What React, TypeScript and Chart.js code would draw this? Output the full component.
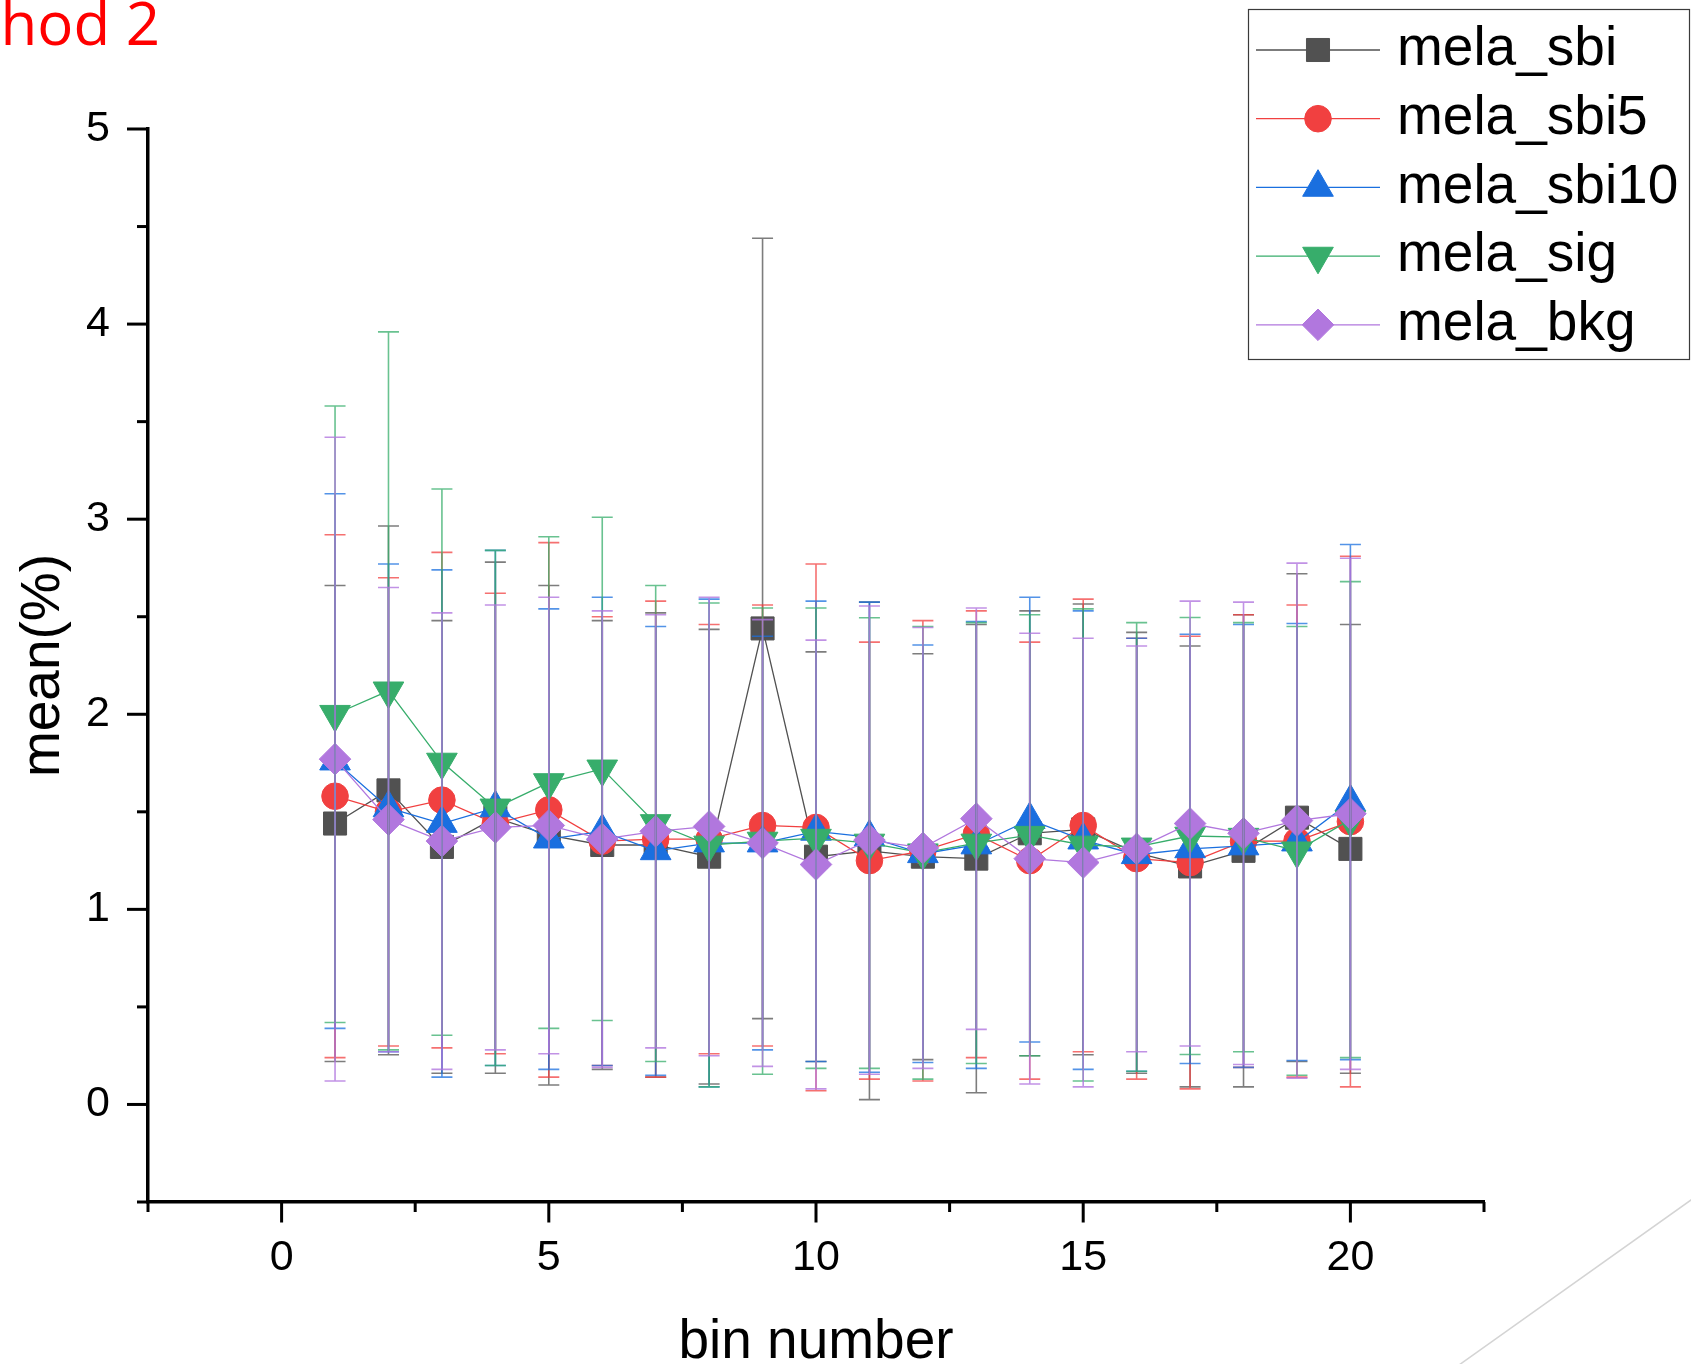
import React, { useEffect, useRef } from 'react';
import { Chart, registerables } from 'chart.js';
import { drawPoint } from 'chart.js/helpers';

Chart.register(...registerables);

// ---------------- data ----------------
const bins = [1, 2, 3, 4, 5, 6, 7, 8, 9, 10, 11, 12, 13, 14, 15, 16, 17, 18, 19, 20];

const seriesNames = ['mela_sbi', 'mela_sbi5', 'mela_sbi10', 'mela_sig', 'mela_bkg'];

const sbiMean = [1.44, 1.61, 1.32, 1.47, 1.38, 1.33, 1.33, 1.27, 2.44, 1.27, 1.30, 1.27, 1.26, 1.39, 1.41, 1.29, 1.22, 1.30, 1.47, 1.31];
const sbiErr = [1.22, 1.355, 1.16, 1.31, 1.28, 1.15, 1.19, 1.165, 2.0, 1.05, 1.275, 1.04, 1.20, 1.14, 1.155, 1.13, 1.13, 1.21, 1.25, 1.15];

const sbi5Mean = [1.58, 1.50, 1.56, 1.44, 1.51, 1.35, 1.36, 1.36, 1.43, 1.42, 1.25, 1.30, 1.385, 1.25, 1.43, 1.26, 1.24, 1.35, 1.35, 1.45];
const sbi5Err = [1.34, 1.20, 1.27, 1.18, 1.37, 1.15, 1.22, 1.10, 1.13, 1.35, 1.12, 1.18, 1.145, 1.12, 1.16, 1.13, 1.16, 1.16, 1.21, 1.36];

const sbi10Mean = [1.76, 1.52, 1.44, 1.52, 1.36, 1.40, 1.30, 1.34, 1.34, 1.40, 1.37, 1.285, 1.33, 1.46, 1.355, 1.28, 1.31, 1.325, 1.345, 1.55];
const sbi10Err = [1.37, 1.25, 1.30, 1.32, 1.18, 1.20, 1.15, 1.25, 1.06, 1.18, 1.205, 1.07, 1.145, 1.14, 1.175, 1.11, 1.10, 1.135, 1.12, 1.32];

const sigMean = [2.00, 2.12, 1.755, 1.52, 1.65, 1.72, 1.44, 1.33, 1.35, 1.365, 1.34, 1.29, 1.34, 1.38, 1.33, 1.32, 1.376, 1.37, 1.30, 1.46];
const sigErr = [1.58, 1.84, 1.40, 1.32, 1.26, 1.29, 1.22, 1.24, 1.195, 1.18, 1.155, 1.16, 1.13, 1.13, 1.21, 1.15, 1.12, 1.10, 1.15, 1.22];

const bkgMean = [1.77, 1.46, 1.35, 1.42, 1.43, 1.36, 1.40, 1.425, 1.34, 1.23, 1.355, 1.315, 1.465, 1.26, 1.24, 1.31, 1.44, 1.39, 1.455, 1.49];
const bkgErr = [1.65, 1.19, 1.17, 1.14, 1.17, 1.17, 1.11, 1.175, 1.145, 1.15, 1.20, 1.13, 1.08, 1.155, 1.15, 1.04, 1.14, 1.185, 1.32, 1.31];

const xMajorTicks = [0, 5, 10, 15, 20];
const xMinorTicks = [-2.5, 2.5, 7.5, 12.5, 17.5, 22.5];
const yMajorTicks = [0, 1, 2, 3, 4, 5];
const yMinorTicks = [-0.5, 0.5, 1.5, 2.5, 3.5, 4.5];

const slideTitle = 'Method 2';
const xTitle = 'bin number';
const yTitle = 'mean(%)';

// ---------------- styles ----------------
const means = [sbiMean, sbi5Mean, sbi10Mean, sigMean, bkgMean];
const errs = [sbiErr, sbi5Err, sbi10Err, sigErr, bkgErr];
const colors = ['#515151', '#F14040', '#1A6FDF', '#37AD6B', '#B177DE'];
const errColors = ['rgba(81,81,81,0.75)', 'rgba(241,64,64,0.75)', 'rgba(26,111,223,0.75)', 'rgba(55,173,107,0.75)', 'rgba(177,119,222,0.8)'];
const pointStyles = ['rect', 'circle', 'triangle', 'triangle', 'rectRot'];
const pointRotations = [0, 0, 0, 180, 0];
const pointRadii = [16.3, 13.3, 17.7, 17.7, 15.8];

const FONT = "'Liberation Sans', Arial, sans-serif";

const errorBarPlugin = {
  id: 'errorBars',
  afterDatasetsDraw(chart: any) {
    const { ctx, scales } = chart;
    const x = scales.x;
    const y = scales.y;
    ctx.save();
    ctx.lineWidth = 1.6;
    ctx.lineCap = 'butt';
    chart.data.datasets.forEach((ds: any) => {
      ctx.strokeStyle = ds.errorColor;
      ds.data.forEach((p: any, i: number) => {
        const e = ds.errorBars[i];
        const px = x.getPixelForValue(p.x);
        const top = y.getPixelForValue(p.y + e);
        const bot = y.getPixelForValue(p.y - e);
        ctx.beginPath();
        ctx.moveTo(px, top);
        ctx.lineTo(px, bot);
        ctx.moveTo(px - 10.5, top);
        ctx.lineTo(px + 10.5, top);
        ctx.moveTo(px - 10.5, bot);
        ctx.lineTo(px + 10.5, bot);
        ctx.stroke();
      });
    });
    ctx.restore();
  },
};

const decorPlugin = {
  id: 'decor',
  afterDraw(chart: any) {
    const { ctx, chartArea, scales } = chart;
    const x = scales.x;
    const y = scales.y;
    ctx.save();
    // axis tick marks (major / minor)
    ctx.strokeStyle = '#000';
    ctx.lineWidth = 3;
    ctx.lineCap = 'butt';
    const seg = (x1: number, y1: number, x2: number, y2: number) => {
      ctx.beginPath();
      ctx.moveTo(x1, y1);
      ctx.lineTo(x2, y2);
      ctx.stroke();
    };
    const ax = chartArea.left - 0.5;
    const ay = chartArea.bottom;
    xMajorTicks.forEach((v) => { const px = x.getPixelForValue(v); seg(px, ay, px, ay + 20.5); });
    xMinorTicks.forEach((v) => { const px = x.getPixelForValue(v); seg(px, ay, px, ay + 10); });
    yMajorTicks.forEach((v) => { const py = y.getPixelForValue(v); seg(ax, py, ax - 20.5, py); });
    yMinorTicks.forEach((v) => { const py = y.getPixelForValue(v); seg(ax, py, ax - 10.5, py); });

    // legend
    const boxL = 1248.5, boxT = 9.5, boxW = 441, boxH = 350;
    ctx.fillStyle = '#fff';
    ctx.fillRect(boxL, boxT, boxW, boxH);
    ctx.strokeStyle = '#3a3a3a';
    ctx.lineWidth = 1.2;
    ctx.strokeRect(boxL, boxT, boxW, boxH);
    chart.data.datasets.forEach((ds: any, i: number) => {
      const rowY = 50 + i * 68.7;
      ctx.strokeStyle = ds.borderColor;
      ctx.lineWidth = 1.3;
      ctx.beginPath();
      ctx.moveTo(1256, rowY);
      ctx.lineTo(1380, rowY);
      ctx.stroke();
      ctx.fillStyle = ds.pointBackgroundColor;
      ctx.strokeStyle = ds.pointBorderColor;
      ctx.lineWidth = 1;
      drawPoint(ctx, { pointStyle: ds.pointStyle, rotation: ds.pointRotation, radius: ds.pointRadius, borderWidth: 1 } as any, 1318, rowY);
      ctx.fillStyle = '#000';
      ctx.font = `55px ${FONT}`;
      ctx.textAlign = 'left';
      ctx.textBaseline = 'middle';
      ctx.fillText(ds.label, 1397, rowY);
    });

    // slide title (cut off at left edge)
    ctx.fillStyle = '#FF0000';
    ctx.font = "60px 'Open Sans', 'Noto Sans', sans-serif";
    ctx.textAlign = 'right';
    ctx.textBaseline = 'alphabetic';
    ctx.fillText(slideTitle, 160, 45);

    // slide decoration line
    ctx.strokeStyle = '#d4d4d4';
    ctx.lineWidth = 1.5;
    ctx.beginPath();
    ctx.moveTo(1705, 1190);
    ctx.lineTo(1452, 1370);
    ctx.stroke();
    ctx.restore();
  },
};

export default function App() {
  const canvasRef = useRef<HTMLCanvasElement | null>(null);

  useEffect(() => {
    const canvas = canvasRef.current;
    if (!canvas) return;
    Chart.defaults.font.family = FONT;

    const datasets = seriesNames.map((name, s) => ({
      label: name,
      data: bins.map((b, i) => ({ x: b, y: means[s][i] })),
      errorBars: errs[s],
      errorColor: errColors[s],
      borderColor: colors[s],
      backgroundColor: colors[s],
      borderWidth: 1.3,
      pointStyle: pointStyles[s],
      pointRotation: pointRotations[s],
      pointRadius: pointRadii[s],
      pointBackgroundColor: colors[s],
      pointBorderColor: colors[s],
      pointBorderWidth: 1,
      tension: 0,
      order: seriesNames.length - 1 - s,
    }));

    const tickCb = (majors: number[]) => (v: any) => (majors.includes(Number(v)) ? String(v) : '');

    const chart = new Chart(canvas, {
      type: 'line',
      data: { datasets: datasets as any },
      options: {
        responsive: false,
        devicePixelRatio: 1,
        animation: false,
        events: [],
        layout: { padding: { top: 129, right: 207, bottom: 0, left: 0 } },
        plugins: { legend: { display: false }, tooltip: { enabled: false } },
        scales: {
          x: {
            type: 'linear',
            min: -2.5,
            max: 22.5,
            afterBuildTicks: (s: any) => {
              s.ticks = [...xMinorTicks, ...xMajorTicks].sort((a, b) => a - b).map((v) => ({ value: v }));
            },
            afterFit: (s: any) => { s.height = 162; },
            ticks: { autoSkip: false, maxRotation: 0, minRotation: 0, padding: 10, color: '#000', font: { size: 43 }, callback: tickCb(xMajorTicks) },
            grid: { drawOnChartArea: false, drawTicks: true, tickLength: 20, tickColor: 'rgba(0,0,0,0)' },
            border: { display: true, color: '#000', width: 3.5 },
            title: { display: true, text: xTitle, color: '#000', font: { size: 55, lineHeight: 0.65 }, padding: { top: 0, bottom: 3 } },
          },
          y: {
            type: 'linear',
            min: -0.5,
            max: 5,
            afterBuildTicks: (s: any) => {
              s.ticks = [...yMinorTicks, ...yMajorTicks].sort((a, b) => a - b).map((v) => ({ value: v }));
            },
            afterFit: (s: any) => { s.width = 148; },
            ticks: { autoSkip: false, padding: 18, color: '#000', font: { size: 43 }, callback: tickCb(yMajorTicks) },
            grid: { drawOnChartArea: false, drawTicks: true, tickLength: 20, tickColor: 'rgba(0,0,0,0)' },
            border: { display: true, color: '#000', width: 3.5 },
            title: { display: true, text: yTitle, color: '#000', font: { size: 55, lineHeight: 0.8 }, padding: { top: 22, bottom: 0 } },
          },
        },
      },
      plugins: [errorBarPlugin, decorPlugin],
    } as any);

    return () => chart.destroy();
  }, []);

  return (
    <div style={{ position: 'fixed', left: 0, top: 0, width: 1691, height: 1364, overflow: 'hidden', background: '#fff' }}>
      <canvas ref={canvasRef} width={1691} height={1364} style={{ display: 'block', width: 1691, height: 1364 }} />
    </div>
  );
}
